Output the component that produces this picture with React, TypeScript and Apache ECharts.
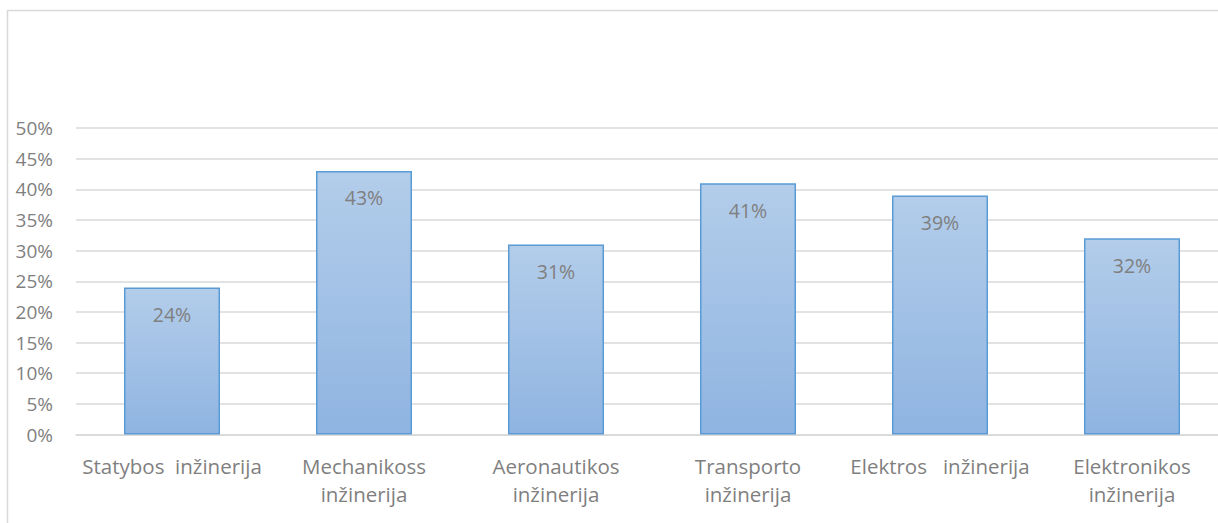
import React, { useEffect, useRef } from "react";
import * as echarts from "echarts";

const categories = [
  "Statybos  inžinerija",
  "Mechanikoss\ninžinerija",
  "Aeronautikos\ninžinerija",
  "Transporto\ninžinerija",
  "Elektros   inžinerija",
  "Elektronikos\ninžinerija",
];
const values = [24, 43, 31, 41, 39, 32];
const yTicks = { min: 0, max: 50, interval: 5 };

const FONT = "'Open Sans', 'Noto Sans', sans-serif";
const GRAY = "#7f7f7f";

export default function App() {
  const ref = useRef<HTMLDivElement>(null);
  useEffect(() => {
    if (!ref.current) return;
    const chart = echarts.init(ref.current, undefined, { renderer: "svg" });
    chart.setOption({
      animation: false,
      backgroundColor: "#ffffff",
      graphic: [
        {
          type: "rect",
          shape: { x: 7.5, y: 10.5, width: 1240, height: 530 },
          style: { fill: "none", stroke: "#d9d9d9", lineWidth: 1.5 },
          silent: true,
          z: -1,
        },
      ],
      grid: { left: 76, top: 128, width: 1152, height: 306.5, containLabel: false },
      xAxis: {
        type: "category",
        data: categories,
        axisTick: { show: false },
        axisLine: { show: true, lineStyle: { color: "#d9d9d9", width: 1.5 } },
        axisLabel: {
          color: GRAY,
          fontFamily: FONT,
          fontSize: 20.5,
          lineHeight: 28,
          margin: 17,
          interval: 0,
        },
      },
      yAxis: {
        type: "value",
        min: yTicks.min,
        max: yTicks.max,
        interval: yTicks.interval,
        axisLine: { show: false },
        axisTick: { show: false },
        splitLine: { lineStyle: { color: "#d9d9d9", width: 1.5 } },
        axisLabel: {
          formatter: "{value}%",
          color: GRAY,
          fontFamily: FONT,
          fontSize: 19,
          margin: 23,
        },
      },
      series: [
        {
          type: "bar",
          data: values,
          barWidth: "50%",
          itemStyle: {
            color: new echarts.graphic.LinearGradient(0, 0, 0, 1, [
              { offset: 0, color: "#b3cdea" },
              { offset: 1, color: "#8fb4e1" },
            ]),
            borderColor: "#5b9bd5",
            borderWidth: 1.5,
          },
          label: {
            show: true,
            position: "insideTop",
            distance: 17,
            formatter: "{c}%",
            color: GRAY,
            fontFamily: FONT,
            fontSize: 19.5,
          },
        },
      ],
    });
    return () => chart.dispose();
  }, []);
  return (
    <div
      ref={ref}
      style={{ position: "fixed", left: 0, top: 0, width: 1240, height: 523 }}
    />
  );
}
